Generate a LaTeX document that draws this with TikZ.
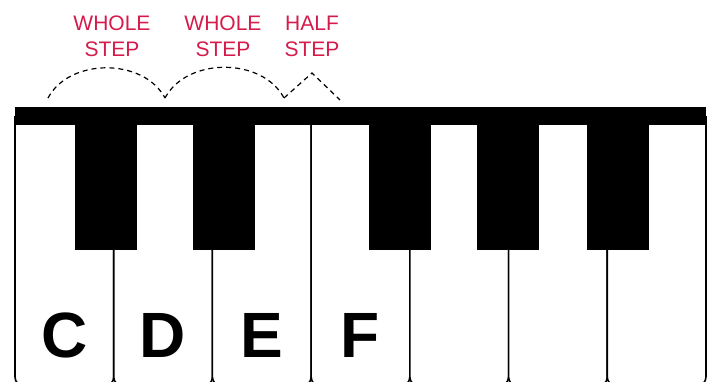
\documentclass[tikz,border=0pt]{standalone}
\usepackage{fontspec}
\setmainfont{Liberation Sans}
\usepackage{tikz}
\usetikzlibrary{arrows.meta,positioning,calc}
\definecolor{stp}{HTML}{D41B4B}
\newcommand{\kw}{98.71}

\begin{document}
\begin{tikzpicture}[x=1pt,y=-1pt,
  wkey/.style={draw=black,fill=white,line width=1.6pt,rounded corners=9pt},
  hop/.style={black,line width=1.2pt,dash pattern=on 5pt off 4pt},
  steplbl/.style={stp,font=\fontsize{21}{26}\selectfont,align=center,inner sep=0pt},
  notelbl/.style={font=\fontsize{64}{64}\selectfont\bfseries,inner sep=0pt,anchor=base}]
\useasboundingbox (0,0) rectangle (712,381);
% white keys
\foreach \i in {0,...,6}{
  \pgfmathsetmacro{\xl}{15+\i*\kw}
  \pgfmathsetmacro{\xr}{15+(\i+1)*\kw}
  \draw[wkey] (\xl,116) -- (\xl,386) -- (\xr,386) -- (\xr,116);
}
% top bar and black keys
\fill[black] (15,107) rectangle (706,125);
\foreach \x in {75,193,369,477,587}{
  \fill[black] (\x,107) rectangle ++(62,143);
}
% note names
\foreach \i/\n in {0/C,1/D,2/E,3/F}{
  \node[notelbl] (note\n) at ({15+(\i+0.5)*\kw},357) {\n};
}
% steps
\coordinate (c) at (48,98);
\coordinate (d) at (165,98);
\coordinate (e) at (284,98);
\coordinate (tip) at (312,73);
\coordinate (f) at (340,100);
\draw[hop] (c) to[bend left=62] (d);
\draw[hop] (d) to[bend left=62] (e);
\draw[hop] (e) -- (tip) -- (f);
\node[steplbl] (stepcd) at (112,36) {WHOLE\\STEP};
\node[steplbl] (stepde) at (223,36) {WHOLE\\STEP};
\node[steplbl] (stepef) at (312,36) {HALF\\STEP};
\end{tikzpicture}
\end{document}
